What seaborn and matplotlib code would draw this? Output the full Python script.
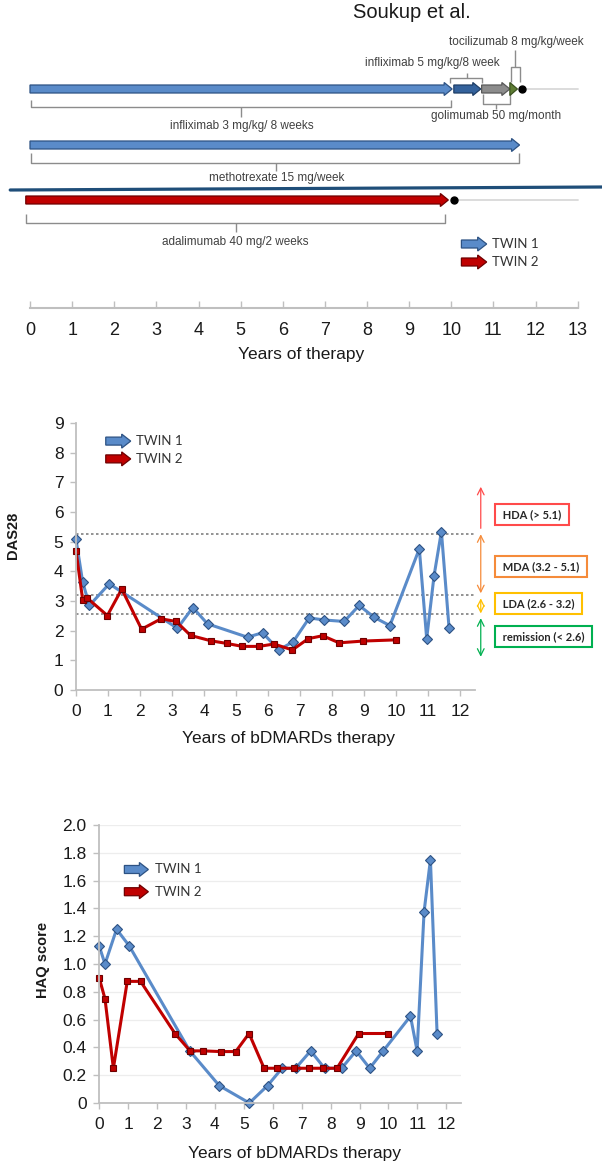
import numpy as np
import pandas as pd
import seaborn as sns
import matplotlib.pyplot as plt
from matplotlib.patches import FancyArrow

# Treatment timeline (years of therapy)
t1_drugs = ['infliximab 3 mg/kg/ 8 weeks', 'infliximab 5 mg/kg/8 week',
            'golimumab 50 mg/month', 'tocilizumab 8 mg/kg/week']
t1_start = [0.0, 10.06, 10.72, 11.39]
t1_end = [10.02, 10.70, 11.39, 11.57]
t1_stop = 11.69
mtx_label = 'methotrexate 15 mg/week'
mtx_start, mtx_end = 0.0, 11.62
t2_drug = 'adalimumab 40 mg/2 weeks'
t2_start, t2_end = -0.1, 9.93
t2_stop = 10.06
timeline_ticks = list(range(14))

# DAS28
das_t1_x = [0, 0.21, 0.42, 1.04, 3.17, 3.65, 4.11, 5.36, 5.83, 6.34, 6.79, 7.29,
            7.76, 8.38, 8.85, 9.32, 9.81, 10.73, 10.96, 11.19, 11.42, 11.66]
das_t1_y = [5.08, 3.63, 2.85, 3.58, 2.08, 2.78, 2.23, 1.78, 1.93, 1.35, 1.63, 2.43,
            2.36, 2.31, 2.85, 2.45, 2.17, 4.76, 1.73, 3.85, 5.34, 2.08]
das_t2_x = [0, 0.21, 0.35, 0.98, 1.43, 2.05, 2.66, 3.13, 3.58, 4.21, 4.71, 5.20,
            5.72, 6.19, 6.76, 7.26, 7.71, 8.22, 8.98, 10.0]
das_t2_y = [4.69, 3.03, 3.10, 2.51, 3.40, 2.05, 2.40, 2.31, 1.84, 1.66, 1.57, 1.47,
            1.47, 1.55, 1.35, 1.73, 1.83, 1.59, 1.65, 1.69]
zone_labels = ['HDA (> 5.1)', 'MDA (3.2 - 5.1)', 'LDA (2.6 - 3.2)', 'remission (< 2.6)']
zone_bounds = [5.25, 3.2, 2.55]

# HAQ
haq_t1_x = [0, 0.2, 0.6, 1.04, 3.13, 4.15, 5.19, 5.82, 6.32, 6.79, 7.31, 7.79, 8.38,
            8.88, 9.35, 9.82, 10.76, 10.99, 11.23, 11.45, 11.68]
haq_t1_y = [1.13, 1.0, 1.25, 1.13, 0.375, 0.125, 0.0, 0.125, 0.25, 0.25, 0.375, 0.25,
            0.25, 0.375, 0.25, 0.375, 0.625, 0.375, 1.375, 1.75, 0.5]
haq_t2_x = [0, 0.2, 0.49, 0.97, 1.43, 2.62, 3.14, 3.58, 4.2, 4.72, 5.18, 5.7, 6.16,
            6.75, 7.26, 7.75, 8.22, 8.97, 10.0]
haq_t2_y = [0.9, 0.75, 0.25, 0.875, 0.875, 0.5, 0.375, 0.375, 0.37, 0.37, 0.5, 0.25,
            0.25, 0.25, 0.25, 0.25, 0.25, 0.5, 0.5]
haq_ticks = [0, 0.2, 0.4, 0.6, 0.8, 1.0, 1.2, 1.4, 1.6, 1.8, 2.0]
haq_ticklabels = ['0', '0.2', '0.4', '0.6', '0.8', '1.0', '1.2', '1.4', '1.6', '1.8', '2.0']
twin_labels = ['TWIN 1', 'TWIN 2']

sns.set_theme(style='white')
plt.rcParams['font.family'] = ['Liberation Sans', 'DejaVu Sans']

BLUE, BLUE_EC = '#5A8BC9', '#2D5283'
RED, RED_EC = '#C00000', '#6E0000'
TXT = '#1a1a1a'
AXC = '#BFBFBF'

W, H = 602, 1169
fig = plt.figure(figsize=(W / 100, H / 100), dpi=100)


def fig_axes(left, top, right, bottom):
    return fig.add_axes([left / W, 1 - bottom / H, (right - left) / W, (bottom - top) / H])


def block_arrow(ax, x0, x1, y, fc, ec, sx, sy, body=8, head=13, hlen=8):
    # sizes in pixels, sx / sy = pixels per data unit
    length = x1 - x0
    hl = min(hlen / sx, length)
    ax.add_patch(FancyArrow(x0, y, length, 0, width=body / sy, head_width=head / sy,
                            head_length=hl, length_includes_head=True,
                            fc=fc, ec=ec, lw=0.9, clip_on=False, zorder=3))


def bracket(ax, x0, x1, y_end, y_bar, y_tip, xc):
    kw = dict(color='#8C8C8C', lw=1, solid_capstyle='butt')
    ax.plot([x0, x0, x1, x1], [y_end, y_bar, y_bar, y_end], **kw)
    ax.plot([xc, xc], [y_bar, y_tip], **kw)


def twin_legend(ax, x0, x1, ys, sx, sy, xt, fs=9.5):
    for y, fc, ec, lab in zip(ys, [BLUE, RED], [BLUE_EC, RED_EC], twin_labels):
        block_arrow(ax, x0, x1, y, fc, ec, sx, sy, body=8, head=14, hlen=9)
        ax.text(xt, y, lab, fontsize=fs, family='Lato', color='#333333', va='center')


# ---------------- timeline ----------------
PXY = 42.13
ax0 = fig_axes(0, 0, 602, 308)
ax0.set_xlim(-30 / PXY, 572 / PXY)
ax0.set_ylim(308, 0)
for s in ['left', 'right', 'top']:
    ax0.spines[s].set_visible(False)
ax0.spines['bottom'].set_bounds(0, 13)
ax0.spines['bottom'].set_color(AXC)
ax0.spines['bottom'].set_linewidth(1.5)
ax0.set_yticks([])
ax0.set_xticks(timeline_ticks)
ax0.tick_params(axis='x', bottom=True, direction='in', length=5, width=1, color=AXC,
                labelsize=13, labelcolor=TXT, pad=10)
ax0.set_xlabel('Years of therapy', fontsize=12.5, color=TXT, labelpad=6)

row1, row_mtx, row2 = 89, 145, 200
ax0.plot([t1_stop, 13], [row1, row1], color='#D9D9D9', lw=1.3, zorder=1)
ax0.plot([t2_stop, 13], [row2, row2], color='#D9D9D9', lw=1.3, zorder=1)

fills = [BLUE, '#34629C', '#8C8C8C', '#5E7D34']
edges = [BLUE_EC, '#1F3E66', '#595959', '#3B5220']
for s0, s1, fc, ec in zip(t1_start, t1_end, fills, edges):
    block_arrow(ax0, s0, s1, row1, fc, ec, PXY, 1)
ax0.plot([t1_stop], [row1], 'o', color='black', ms=5, zorder=4)
block_arrow(ax0, mtx_start, mtx_end, row_mtx, BLUE, BLUE_EC, PXY, 1)
block_arrow(ax0, t2_start, t2_end, row2, RED, RED_EC, PXY, 1)
ax0.plot([t2_stop], [row2], 'o', color='black', ms=5, zorder=4)

lab_kw = dict(fontsize=8.5, color='#404040', ha='center', va='center')
# infliximab 3
bracket(ax0, t1_start[0] + 0.02, t1_end[0] - 0.03, 100, 107, 117, 5.02)
ax0.text(5.02, 126, t1_drugs[0], **lab_kw)
# infliximab 5 (above)
bracket(ax0, t1_start[1] - 0.09, t1_end[1] + 0.03, 83, 78, 73, 10.37)
ax0.text(9.56, 63, t1_drugs[1], **lab_kw)
# golimumab (below)
bracket(ax0, t1_start[2] + 0.03, t1_end[2], 94, 104, 109, 11.07)
ax0.text(11.07, 116, t1_drugs[2], **lab_kw)
# tocilizumab (above)
bracket(ax0, t1_start[3] + 0.03, t1_end[3] + 0.05, 82, 67, 50, 11.52)
ax0.text(11.55, 42, t1_drugs[3], **lab_kw)
# methotrexate
bracket(ax0, mtx_start + 0.02, mtx_end - 0.02, 153, 163, 171, 5.84)
ax0.text(5.86, 178, mtx_label, **lab_kw)
# adalimumab
bracket(ax0, t2_start + 0.01, t2_end - 0.09, 214, 223, 232, 4.88)
ax0.text(4.88, 242, t2_drug, **lab_kw)

# separator between the twins
ax0.plot([-0.47, 13.58], [190, 187], color='#1F4E79', lw=2.3, clip_on=False)

twin_legend(ax0, 10.24, 10.84, [244, 262], PXY, 1, 10.97)
ax0.text(9.06, 13, 'Soukup et al.', fontsize=14.5, color=TXT, ha='center', va='center')

# ---------------- DAS28 ----------------
ax1 = fig_axes(76, 423, 475, 690)
sns.lineplot(x=das_t1_x, y=das_t1_y, ax=ax1, color=BLUE, lw=2.2, marker='D', ms=5.5,
             markerfacecolor=BLUE, markeredgecolor=BLUE_EC, markeredgewidth=0.8,
             estimator=None, sort=False)
sns.lineplot(x=das_t2_x, y=das_t2_y, ax=ax1, color=RED, lw=2.2, marker='s', ms=5,
             markerfacecolor=RED, markeredgecolor=RED_EC, markeredgewidth=0.8,
             estimator=None, sort=False)
ax1.set_xlim(0, 12.47)
ax1.set_ylim(0, 9)
ax1.set_xticks(range(13))
ax1.set_yticks(range(10))
for b in zone_bounds:
    ax1.axhline(b, color='#808080', ls=(0, (1.5, 1.5)), lw=1.2, zorder=0)

zone_colors = ['#FF4B4B', '#F58B3A', '#FFC000', '#00B050']
zone_spans = [(5.45, 6.85), (3.26, 5.25), (2.58, 3.09), (1.12, 2.42)]
zone_text_y = [5.91, 4.16, 2.9, 1.8]
for (lo, hi), c, lab, ty, i in zip(zone_spans, zone_colors, zone_labels, zone_text_y, range(4)):
    style = '->' if i == 0 else '<->'
    ax1.annotate('', xy=(12.65, hi), xytext=(12.65, lo), annotation_clip=False,
                 arrowprops=dict(arrowstyle=style, color=c, lw=0.9, shrinkA=0, shrinkB=0))
    ax1.text(13.24, ty, ' ' + lab + ' ', fontsize=8, family='Lato', weight='bold',
             color='#262626', va='center', ha='left', clip_on=False,
             bbox=dict(boxstyle='square,pad=0.45', fc='white', ec=c, lw=1.5))

twin_legend(ax1, 0.93, 1.71, [8.39, 7.79], 32, 29.67, 1.89)

# ---------------- HAQ ----------------
ax2 = fig_axes(99.2, 825, 460.8, 1103)
sns.lineplot(x=haq_t1_x, y=haq_t1_y, ax=ax2, color=BLUE, lw=2.2, marker='D', ms=5.5,
             markerfacecolor=BLUE, markeredgecolor=BLUE_EC, markeredgewidth=0.8,
             estimator=None, sort=False)
sns.lineplot(x=haq_t2_x, y=haq_t2_y, ax=ax2, color=RED, lw=2.2, marker='s', ms=5,
             markerfacecolor=RED, markeredgecolor=RED_EC, markeredgewidth=0.8,
             estimator=None, sort=False)
ax2.set_xlim(0, 12.5)
ax2.set_ylim(0, 2)
ax2.set_xticks(range(13))
ax2.set_yticks(haq_ticks)
ax2.set_yticklabels(haq_ticklabels)
ax2.yaxis.grid(True, color='#EDEDED', lw=0.9)
ax2.set_axisbelow(True)
twin_legend(ax2, 0.87, 1.70, [1.68, 1.52], 28.93, 139, 1.93)

for ax, ylab, xy_y, xy_x in [(ax1, 'DAS28', (-0.14, 0.58), (0.533, -0.155)),
                              (ax2, 'HAQ score', (-0.136, 0.514), (0.539, -0.155))]:
    for line in ax.lines:
        line.set_clip_on(False)
    sns.despine(ax=ax)
    for s in ['left', 'bottom']:
        ax.spines[s].set_color(AXC)
        ax.spines[s].set_linewidth(1.3)
    ax.tick_params(axis='both', bottom=True, left=True, length=4, width=1, color=AXC,
                   labelsize=12.5, labelcolor=TXT)
    ax.tick_params(axis='x', pad=6)
    ax.tick_params(axis='y', pad=5)
    ax.set_ylabel(ylab, fontsize=10.5, fontweight='bold', color=TXT)
    ax.yaxis.set_label_coords(*xy_y)
    ax.set_xlabel('Years of bDMARDs therapy', fontsize=12.5, color=TXT)
    ax.xaxis.set_label_coords(*xy_x)

fig.savefig('out.png', dpi=100)
